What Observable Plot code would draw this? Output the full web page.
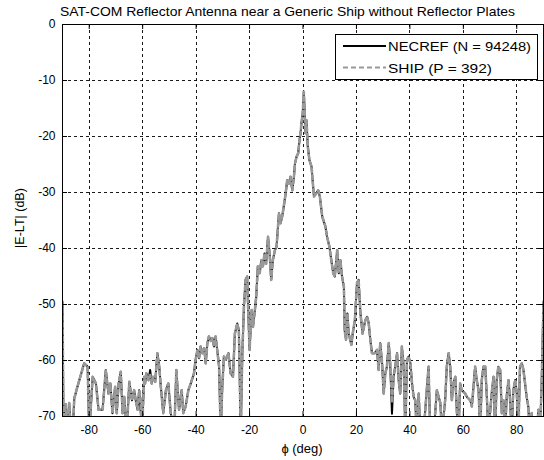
<!DOCTYPE html>
<html><head><meta charset="utf-8">
<script src="https://cdn.jsdelivr.net/npm/d3@7"></script>
<script src="https://cdn.jsdelivr.net/npm/@observablehq/plot@0.6"></script>
<style>
body{margin:0;background:#fff;}
#chart{position:relative;width:544px;height:460px;}
</style></head><body><div id="chart"></div>
<script>
const titleText = "SAT-COM Reflector Antenna near a Generic Ship without Reflector Plates";
const xLabel = "\u03d5 (deg)";
const yLabel = "|E-LT| (dB)";
const seriesNames = ["NECREF (N = 94248)", "SHIP (P = 392)"];
const xTicks = [-80, -60, -40, -20, 0, 20, 40, 60, 80];
const yTicks = [0, -10, -20, -30, -40, -50, -60, -70];

const phi = [
-90, -89.6, -88.8, -88.3, -87.5, -86.8, -86.2, -85.6, -84.6, -83.7,
-82.8, -81.9, -81.2, -80.6, -80.0, -78.7, -77.5, -76.5, -75.0, -73.8,
-72.8, -72.1, -71.3, -70.3, -69.7, -69.0, -68.2, -67.5, -66.9, -66.0,
-65.0, -64.0, -63.2, -62.6, -61.9, -61.3, -60.7, -60.3, -59.4, -59.1,
-58.6, -57.8, -57.2, -56.6, -56.1, -55.3, -54.5, -53.8, -53.2, -52.3,
-51.3, -50.4, -49.5, -48.2, -47.4, -46.4, -45.4, -44.8, -43.9, -42.9,
-42.0, -40.8, -40.2, -39.5, -38.9, -38.3, -37.7, -37.0, -36.4, -35.8,
-35.2, -34.5, -33.9, -33.3, -32.7, -32.1, -31.4, -30.8, -30.2, -29.6,
-28.9, -27.9, -27.1, -26.2, -25.5, -24.6, -24.0, -23.3, -22.7, -22.1,
-21.5, -20.9, -20.5, -20.0, -19.2, -18.7, -18.0, -17.5, -16.9, -16.2,
-15.6, -15.0, -14.4, -13.8, -13.1, -12.5, -11.9, -11.3, -10.5, -9.9,
-9.0, -8.4, -7.8, -7.2, -6.5, -5.9, -5.3, -4.7, -4.0, -3.4,
-3.0, -2.4, -1.8, -1.3, -0.9, -0.6, -0.1, 0.3, 0.7, 0.9,
1.3, 1.8, 2.4, 3.2, 3.7, 4.1, 4.9, 5.7, 6.3, 7.2,
8.4, 9.0, 9.9, 10.6, 11.3, 11.9, 12.8, 13.4, 14.0, 14.6,
15.3, 15.6, 16.1, 16.6, 17.1, 18.1, 18.6, 19.4, 20.2, 20.8,
21.5, 22.3, 23.3, 24.0, 24.6, 25.2, 25.8, 26.8, 27.7, 28.3,
28.9, 29.6, 30.2, 30.8, 31.4, 32.1, 32.7, 33.3, 33.9, 34.5,
35.2, 35.8, 36.4, 37.0, 37.7, 38.3, 38.9, 39.5, 40.2, 40.8,
41.4, 42.0, 42.6, 43.3, 43.9, 45.1, 46.4, 47.0, 47.6, 48.9,
50.1, 51.4, 52.0, 53.2, 53.8, 54.5, 55.1, 55.7, 56.3, 57.0,
57.6, 58.2, 58.8, 59.4, 60.7, 61.3, 62.6, 63.2, 63.8, 64.4,
65.0, 65.7, 66.3, 66.9, 67.5, 68.2, 68.8, 69.4, 70.0, 70.6,
71.3, 71.9, 72.5, 73.1, 73.8, 74.4, 75.0, 75.6, 76.3, 76.9,
77.5, 78.1, 78.7, 79.4, 80.0, 80.6, 81.2, 81.9, 82.5, 83.1,
83.7, 84.3, 84.9, 85.6, 86.2, 87.5, 88.1, 88.7, 89.3, 90
];

const necref = [
-49.5, -73, -67.8, -73, -67.6, -73, -73, -66.8, -65.0, -63.5,
-62.0, -60.5, -60.8, -61.1, -73, -62.9, -64.1, -68.8, -68.8, -61.7,
-65.9, -64.1, -69.4, -64.7, -69.4, -64.1, -62.0, -69.4, -66.5, -73,
-63.8, -67.1, -65.3, -67.1, -68.8, -65.3, -69.4, -73, -62.9, -64.1,
-62.3, -63.5, -61.7, -64.1, -62.9, -63.8, -58.7, -61.1, -64.7, -69.4,
-65.3, -64.1, -69.4, -73, -61.7, -68.8, -65.3, -69.4, -68.2, -65.3,
-64.1, -62.3, -59.9, -58.1, -59.6, -57.5, -58.7, -57.8, -60.5, -56.9,
-55.7, -56.5, -56.0, -57.5, -55.7, -58.1, -61.1, -73, -64.7, -59.3,
-59.9, -58.7, -62.3, -62.9, -55.2, -53.4, -54.6, -73, -58.7, -50.4,
-45.6, -45.0, -51.0, -58.1, -51.0, -54.0, -51.0, -48.6, -43.2, -44.4,
-42.1, -43.2, -40.9, -42.7, -37.9, -40.9, -45.6, -42.1, -40.3, -39.7,
-33.7, -35.5, -34.3, -32.5, -30.2, -27.8, -28.4, -27.2, -29.6, -27.2,
-24.8, -23.6, -23.0, -20.6, -19.4, -17.7, -15.9, -12.0, -16.5, -19.4,
-17.1, -21.8, -24.2, -25.4, -28.4, -30.7, -30.2, -29.6, -30.7, -34.3,
-36.1, -37.9, -39.7, -42.1, -44.4, -45.0, -40.3, -44.4, -42.1, -45.0,
-46.8, -54.6, -56.3, -51.6, -55.2, -57.2, -55.2, -52.8, -46.2, -45.6,
-51.6, -55.2, -52.8, -52.2, -53.4, -56.3, -58.7, -58.7, -58.1, -61.7,
-56.9, -60.5, -65.9, -62.3, -61.1, -56.9, -61.5, -69.5, -62.9, -61.1,
-58.7, -63.5, -65.9, -57.5, -61.1, -73, -59.9, -59.3, -60.5, -64.1,
-66.5, -67.1, -73, -65.9, -73, -73, -64.7, -61.1, -73, -73,
-65.3, -67.6, -73, -67.1, -61.1, -58.7, -61.1, -67.1, -64.1, -62.9,
-69.4, -73, -64.1, -65.3, -65.9, -66.5, -67.1, -68.2, -64.7, -61.1,
-63.5, -65.3, -73, -63.5, -61.1, -61.1, -66.5, -73, -69.4, -65.9,
-62.9, -73, -63.5, -61.1, -61.7, -69.4, -67.1, -73, -65.9, -63.5,
-67.1, -73, -65.3, -63.5, -65.9, -73, -61.1, -60.5, -61.7, -64.1,
-66.5, -68.2, -73, -69.4, -73, -73, -68.8, -73, -64.1, -49.5
];

const ship = [
-49.5, -73, -67.8, -73, -67.6, -73, -73, -66.8, -65.0, -63.5,
-62.0, -60.5, -60.8, -61.1, -73, -62.9, -64.1, -68.8, -68.8, -61.7,
-65.9, -64.1, -69.4, -64.7, -69.4, -64.1, -62.0, -69.4, -66.5, -73,
-63.8, -67.1, -65.3, -67.1, -68.8, -65.3, -67.0, -73, -62.9, -64.1,
-62.3, -63.5, -62.6, -64.1, -62.9, -63.8, -58.7, -61.1, -64.7, -69.4,
-65.3, -64.1, -69.4, -73, -61.7, -68.8, -65.3, -69.4, -68.2, -65.3,
-64.1, -62.3, -59.9, -58.1, -59.6, -57.5, -58.7, -57.8, -60.5, -56.9,
-55.7, -56.5, -56.0, -57.5, -55.7, -58.1, -61.1, -73, -64.7, -59.3,
-59.9, -58.7, -62.3, -62.9, -55.2, -53.4, -54.6, -73, -58.7, -50.4,
-45.6, -45.0, -51.0, -58.1, -51.0, -54.0, -51.0, -48.6, -43.2, -44.4,
-42.1, -43.2, -40.9, -42.7, -37.9, -40.9, -45.6, -42.1, -40.3, -39.7,
-33.7, -35.5, -34.3, -32.5, -30.2, -27.8, -28.4, -27.2, -29.6, -27.2,
-24.8, -23.6, -23.0, -20.6, -19.4, -17.7, -15.9, -12.0, -16.5, -19.4,
-17.1, -21.8, -24.2, -25.4, -28.4, -30.7, -30.2, -29.6, -30.7, -34.3,
-36.1, -37.9, -39.7, -42.1, -44.4, -45.0, -40.3, -44.4, -42.1, -45.0,
-46.8, -54.6, -56.3, -51.6, -55.2, -57.2, -55.2, -52.8, -46.2, -45.6,
-51.6, -55.2, -52.8, -52.2, -53.4, -56.3, -58.7, -58.7, -58.1, -61.7,
-56.9, -60.5, -65.9, -62.3, -61.1, -56.9, -60.5, -67.5, -62.9, -61.1,
-58.7, -63.5, -65.9, -57.5, -61.1, -73, -59.9, -59.3, -60.5, -64.1,
-66.5, -67.1, -73, -65.9, -73, -73, -64.7, -61.1, -73, -73,
-65.3, -67.6, -73, -67.1, -61.1, -58.7, -61.1, -67.1, -64.1, -62.9,
-69.4, -73, -64.1, -65.3, -65.9, -66.5, -67.1, -68.2, -64.7, -61.1,
-63.5, -65.3, -73, -63.5, -61.1, -61.1, -66.5, -73, -69.4, -65.9,
-62.9, -73, -63.5, -61.1, -61.7, -69.4, -67.1, -73, -65.9, -63.5,
-67.1, -73, -65.3, -63.5, -65.9, -73, -61.1, -60.5, -61.7, -64.1,
-66.5, -68.2, -73, -69.4, -73, -73, -68.8, -73, -64.1, -49.5
];

const data = phi.map((p, i) => ({phi: p, necref: necref[i], ship: ship[i]}));

const W = 544, H = 460, mL = 62, mR = 1, mT = 24, mB = 44;
const innerW = W - mL - mR, innerH = H - mT - mB;
const font = '"Liberation Sans", Arial, Helvetica, sans-serif';
const fmt = d => String(d);

const plot = Plot.plot({
  width: W, height: H,
  marginLeft: mL, marginRight: mR, marginTop: mT, marginBottom: mB,
  style: {fontFamily: font, fontSize: "12px", color: "#000", background: "#fff", overflow: "visible"},
  x: {domain: [-90, 90]},
  y: {domain: [-70, 0]},
  marks: [
    Plot.gridX(xTicks, {stroke: "#000", strokeOpacity: 0.9, strokeDasharray: "3,3", shapeRendering: "crispEdges"}),
    Plot.gridY(yTicks, {stroke: "#000", strokeOpacity: 0.9, strokeDasharray: "3,3", shapeRendering: "crispEdges"}),
    Plot.line(data, {x: "phi", y: "necref", stroke: "#000", strokeWidth: 2, clip: true}),
    Plot.line(data, {x: "phi", y: "ship", stroke: "#999", strokeWidth: 2.6, strokeDasharray: "4,3", clip: true}),
    Plot.tickX(xTicks, {x: d => d, stroke: "#000", insetTop: innerH - 5}),
    Plot.tickX(xTicks, {x: d => d, stroke: "#000", insetBottom: innerH - 5}),
    Plot.tickY(yTicks, {y: d => d, stroke: "#000", insetRight: innerW - 5}),
    Plot.tickY(yTicks, {y: d => d, stroke: "#000", insetLeft: innerW - 5}),
    Plot.axisX(xTicks, {tickSize: 0, tickPadding: 9, tickFormat: fmt, label: null, fontSize: 12}),
    Plot.axisY(yTicks, {tickSize: 0, tickPadding: 7, tickFormat: fmt, label: null, fontSize: 12}),
    Plot.frame({stroke: "#000"})
  ]
});

document.getElementById("chart").appendChild(plot);
const svg = d3.select(plot);

// Title
svg.append("text").attr("x", 60).attr("y", 16).attr("text-anchor", "start")
  .attr("font-family", font).attr("font-size", 13).attr("fill", "#000")
  .attr("textLength", 455).attr("lengthAdjust", "spacingAndGlyphs")
  .text(titleText);

// Axis labels
svg.append("text").attr("x", 302).attr("y", 453).attr("text-anchor", "middle")
  .attr("font-family", font).attr("font-size", 13).attr("fill", "#000")
  .text(xLabel);
svg.append("text").attr("transform", "translate(24,218) rotate(-90)").attr("text-anchor", "middle")
  .attr("font-family", font).attr("font-size", 12.5).attr("fill", "#000")
  .text(yLabel);

// Legend
const lg = svg.append("g");
lg.append("rect").attr("x", 335.5).attr("y", 34.5).attr("width", 202).attr("height", 45)
  .attr("fill", "#fff").attr("stroke", "#000");
lg.append("line").attr("x1", 343).attr("x2", 386).attr("y1", 46).attr("y2", 46)
  .attr("stroke", "#000").attr("stroke-width", 1.8);
lg.append("line").attr("x1", 343).attr("x2", 386).attr("y1", 67.5).attr("y2", 67.5)
  .attr("stroke", "#999").attr("stroke-width", 1.8).attr("stroke-dasharray", "5,3");
lg.append("text").attr("x", 388).attr("y", 50.5).attr("text-anchor", "start")
  .attr("font-family", font).attr("font-size", 12.5).attr("fill", "#000")
  .attr("textLength", 143).attr("lengthAdjust", "spacingAndGlyphs")
  .text(seriesNames[0]);
lg.append("text").attr("x", 388).attr("y", 72.5).attr("text-anchor", "start")
  .attr("font-family", font).attr("font-size", 12.5).attr("fill", "#000")
  .attr("textLength", 104).attr("lengthAdjust", "spacingAndGlyphs")
  .text(seriesNames[1]);
</script>
</body></html>
